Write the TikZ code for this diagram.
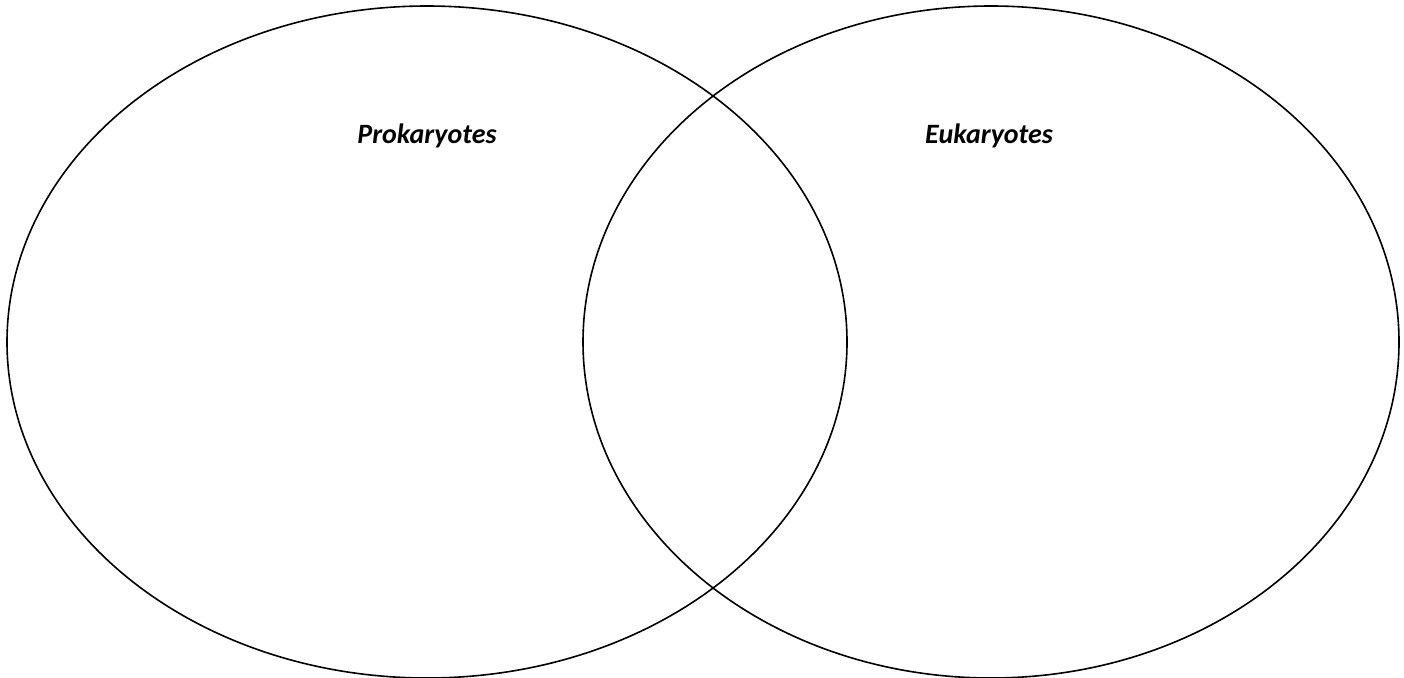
\documentclass[tikz,border=0pt]{standalone}
\usepackage{fontspec}
\setmainfont{Carlito}
\begin{document}
\begin{tikzpicture}[x=1pt,y=-1pt,
  setshape/.style={draw=black,line width=1.6pt},
  setlabel/.style={font=\fontsize{28}{32}\selectfont\bfseries\itshape,inner sep=0pt}]
\useasboundingbox (0,0) rectangle (1404,677);
\draw[setshape] (427,342) ellipse [x radius=420, y radius=336];
\draw[setshape] (991,342) ellipse [x radius=408, y radius=336];
\node[setlabel,anchor=base] (pro) at (427,143) {Prokaryotes};
\node[setlabel,anchor=base] (eu) at (989,143) {Eukaryotes};
\end{tikzpicture}
\end{document}
